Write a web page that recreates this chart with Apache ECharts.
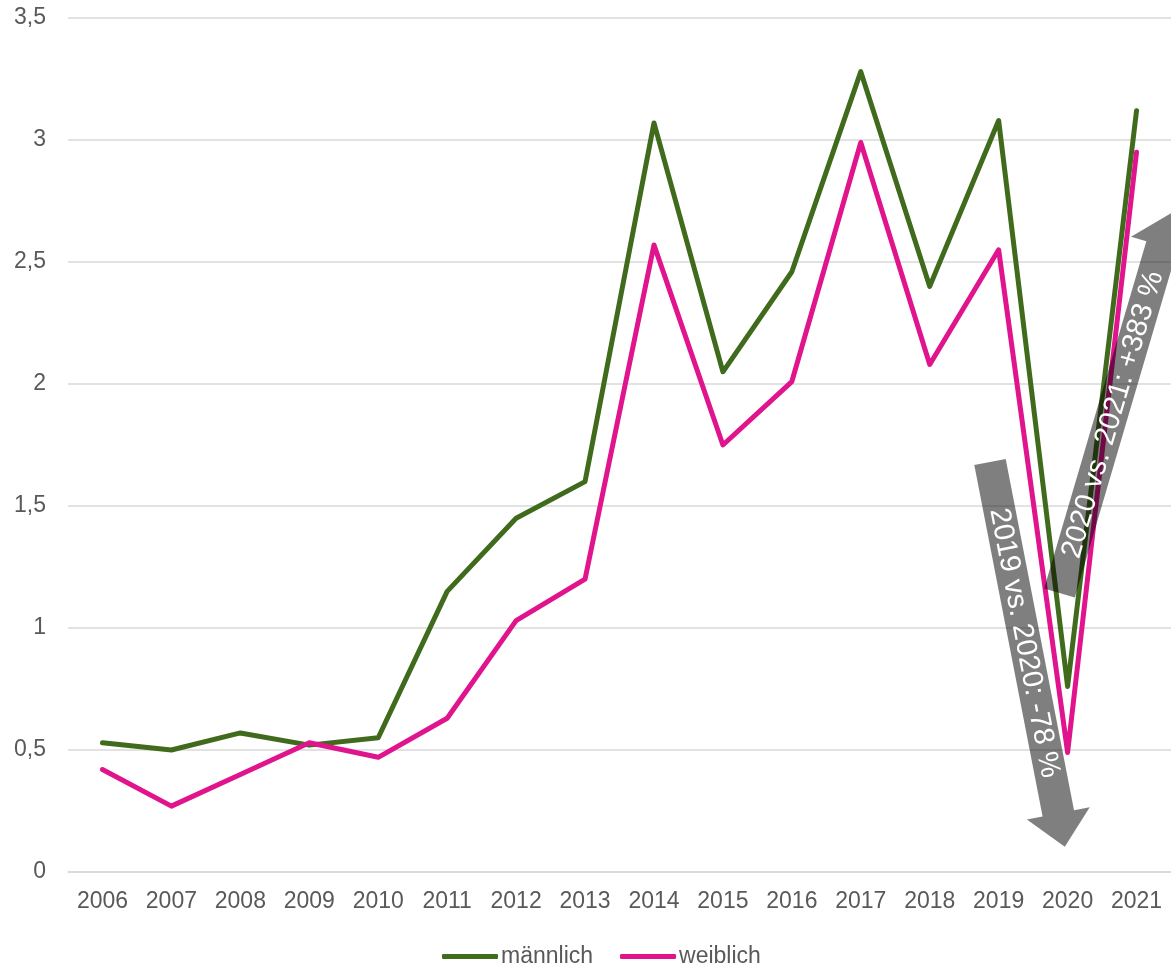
<!DOCTYPE html>
<html>
<head>
<meta charset="utf-8">
<script src="https://cdn.jsdelivr.net/npm/echarts@6/dist/echarts.min.js"></script>
<style>
  html, body { margin: 0; padding: 0; background: #fff; }
  #chart { width: 1171px; height: 964px; }
</style>
</head>
<body>
<div id="chart"></div>
<script>
// Daten
const years = ['2006', '2007', '2008', '2009', '2010', '2011', '2012', '2013',
  '2014', '2015', '2016', '2017', '2018', '2019', '2020', '2021']
const maennlich = [0.53, 0.50, 0.57, 0.52, 0.55, 1.15, 1.45, 1.60, 3.07, 2.05, 2.46, 3.28, 2.40, 3.08, 0.76, 3.12]
const weiblich = [0.42, 0.27, 0.40, 0.53, 0.47, 0.63, 1.03, 1.20, 2.57, 1.75, 2.01, 2.99, 2.08, 2.55, 0.49, 2.95]
const seriesNames = ['männlich', 'weiblich']
const arrowLabels = ['2019 vs. 2020: -78 %', '2020 vs. 2021: +383 %']

const FONT = '"Liberation Sans", Arial, sans-serif'
const TEXT_COLOR = '#595959'

// Pfeil (Annotation) in lokalen Koordinaten, danach gedreht
function arrow(x, y, angleDeg, len, label) {
  const bw = 16, hw = 32, hl = 34
  return {
    type: 'group',
    x: x,
    y: y,
    rotation: angleDeg * Math.PI / 180,
    children: [
      {
        type: 'polygon',
        z: 100,
        shape: {
          points: [[0, -bw], [len - hl, -bw], [len - hl, -hw], [len, 0],
            [len - hl, hw], [len - hl, bw], [0, bw]]
        },
        style: { fill: 'rgba(0,0,0,0.5)' }
      },
      {
        type: 'text',
        z: 101,
        x: len * 0.47,
        y: 1,
        style: {
          text: label,
          fill: '#fff',
          font: '29px ' + FONT,
          align: 'center',
          verticalAlign: 'middle'
        }
      }
    ]
  }
}

const chart = echarts.init(document.getElementById('chart'))

chart.setOption({
  animation: false,
  textStyle: { fontFamily: FONT },
  grid: { left: 68, right: 0, top: 18, bottom: 92, containLabel: false },
  legend: {
    top: 940,
    left: 437,
    data: seriesNames,
    icon: 'roundRect',
    itemWidth: 56,
    itemHeight: 5,
    itemGap: 27,
    textStyle: { color: TEXT_COLOR, fontSize: 23, fontFamily: FONT, padding: [0, 0, 0, -2] }
  },
  xAxis: {
    type: 'category',
    data: years,
    boundaryGap: true,
    axisLine: { lineStyle: { color: '#d9d9d9', width: 1.5 } },
    axisTick: { show: false },
    axisLabel: { color: TEXT_COLOR, fontSize: 23, margin: 18, fontFamily: FONT, interval: 0 }
  },
  yAxis: {
    type: 'value',
    min: 0,
    max: 3.5,
    interval: 0.5,
    axisLine: { show: false },
    axisTick: { show: false },
    splitLine: { lineStyle: { color: '#d9d9d9', width: 1.5 } },
    axisLabel: {
      color: TEXT_COLOR,
      fontSize: 23,
      margin: 22,
      fontFamily: FONT,
      formatter: (v) => String(v).replace('.', ',')
    }
  },
  series: [
    {
      name: seriesNames[0],
      type: 'line',
      data: maennlich,
      showSymbol: false,
      symbol: 'none',
      lineStyle: { color: '#416b1c', width: 5, join: 'round', cap: 'round' },
      itemStyle: { color: '#416b1c' }
    },
    {
      name: seriesNames[1],
      type: 'line',
      data: weiblich,
      showSymbol: false,
      symbol: 'none',
      lineStyle: { color: '#e0148c', width: 5, join: 'round', cap: 'round' },
      itemStyle: { color: '#e0148c' }
    }
  ],
  graphic: [
    arrow(990, 462, -79, 392, arrowLabels[0]),
    arrow(1059.5, 593, 73.6, 396, arrowLabels[1])
  ]
})
</script>
</body>
</html>
